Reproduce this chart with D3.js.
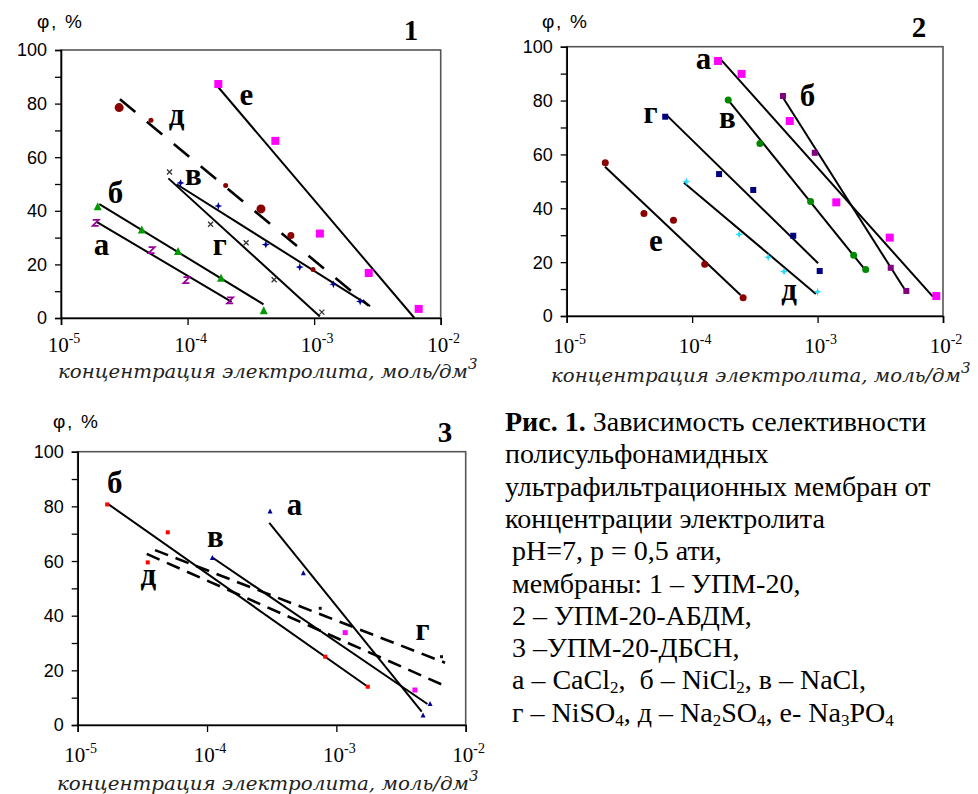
<!DOCTYPE html>
<html><head><meta charset="utf-8">
<script src="https://cdn.jsdelivr.net/npm/d3@7"></script>
<style>body{margin:0;background:#fff}svg{display:block}</style>
</head><body>
<svg id="c" width="978" height="794"></svg>
<script>
// ---------------- DATA ----------------
const xTickValues = [1e-5, 1e-4, 1e-3, 1e-2];
const xTickExponents = ["-5", "-4", "-3", "-2"];
const yTickValues = [0,10,20,30,40,50,60,70,80,90,100];
const yTickLabels = [0,20,40,60,80,100];
const seriesNames = ["а","б","в","г","д","е"];

// Panel 1 – УПМ-20  (concentration, φ %)
const p1Points = {
  "а": [[1.88e-5,35.5],[5.2e-5,25.3],[9.8e-5,14.1],[2.17e-4,6.6]],
  "б": [[1.95e-5,41.7],[4.35e-5,33],[8.4e-5,25],[1.84e-4,15],[4.0e-4,2.9]],
  "в": [[8.8e-5,50.4],[1.75e-4,41.8],[4.15e-4,27.4],[7.7e-4,19],[1.42e-3,12.6],[2.31e-3,6.2]],
  "г": [[7.2e-5,54.5],[1.52e-4,35],[2.9e-4,28.1],[4.83e-4,14.3],[1.15e-3,2.2]],
  "д": [[2.88e-5,78.5],[5.14e-5,73.8],[2.0e-4,49.4],[3.8e-4,40.7],[6.55e-4,30.8],[9.8e-4,18.1]],
  "е": [[1.75e-4,87.3],[4.94e-4,66.1],[1.11e-3,31.5],[2.7e-3,16.8],[6.7e-3,3.4]]
};
const p1Lines = {
  "а": [[1.91e-5,35.9],[2.23e-4,6.0]],
  "б": [[2.01e-5,42.5],[3.98e-4,5.1]],
  "в": [[8.2e-5,49.9],[2.77e-3,4.4]],
  "г": [[7.05e-5,52.1],[1.11e-3,0.6]],
  "д": [[2.92e-5,81.6],[2.69e-3,4.7]],
  "е": [[1.75e-4,86.1],[6.2e-3,0]]
};
const p1LabelPos = {"а":[2.09e-5,23.5],"б":[2.7e-5,42.9],"в":[1.11e-4,49.6],"г":[1.8e-4,23.5],"д":[8.2e-5,72.0],"е":[2.92e-4,79.5]};

// Panel 2 – УПМ-20-АБДМ
const p2Points = {
  "а": [[1.61e-4,94.7],[2.48e-4,89.9],[6.0e-4,72.4],[1.41e-3,42.2],[3.76e-3,29.1],[8.85e-3,7.4]],
  "б": [[5.3e-4,81.7],[9.5e-4,60.6],[3.83e-3,17.9],[5.1e-3,9.3]],
  "в": [[1.94e-4,80.2],[3.47e-4,64.1],[8.8e-4,42.5],[1.94e-3,22.6],[2.42e-3,17.3]],
  "г": [[6.1e-5,74],[1.64e-4,52.7],[3.07e-4,46.8],[6.4e-4,29.8],[1.04e-3,16.7]],
  "д": [[9.0e-5,49.9],[2.37e-4,30.3],[4.04e-4,21.8],[5.4e-4,16.5],[1.0e-3,9]],
  "е": [[2.03e-5,56.9],[4.13e-5,38.1],[7.1e-5,35.6],[1.26e-4,19.2],[2.55e-4,6.8]]
};
const p2Lines = {
  "а": [[1.69e-4,95.3],[8.3e-3,7.2]],
  "б": [[5.25e-4,81.4],[4.94e-3,9.9]],
  "в": [[1.97e-4,79.8],[2.38e-3,17.3]],
  "г": [[6.25e-5,74.6],[1.01e-3,19.6]],
  "д": [[8.6e-5,49.5],[9.7e-4,8.2]],
  "е": [[2.02e-5,55.4],[2.43e-4,7.8]]
};
const p2LabelPos = {"а":[1.23e-4,91.7],"б":[8.3e-4,78.0],"в":[1.91e-4,69.8],"г":[4.66e-5,71.7],"д":[5.93e-4,5.9],"е":[5.15e-5,24.1]};

// Panel 3 – УПМ-20-ДБСН
const p3Points = {
  "а": [[3.07e-4,78.3],[5.56e-4,55.7],[4.68e-3,3.7]],
  "б": [[1.69e-5,80.7],[4.97e-5,70.5],[8.2e-4,25],[1.75e-3,14]],
  "в": [[1.1e-4,61.3],[5.3e-3,7.9]],
  "г": [[7.5e-4,42.7],[6.5e-3,25]],
  "д": [[1.17e-3,33.8],[4.05e-3,12.8]],
  "д0": [[3.48e-5,59.5]]
};
const p3Lines = {
  "а": [[3.03e-4,74.0],[4.57e-3,4.9]],
  "б": [[1.69e-5,81.1],[1.75e-3,14.0]],
  "в": [[1.1e-4,61.3],[5.06e-3,7.7]],
  "г": [[3.96e-5,64.0],[6.92e-3,22.8]],
  "д": [[3.42e-5,62.6],[6.92e-3,14.3]]
};
const p3LabelPos = {"б":[1.93e-5,84.9],"а":[4.74e-4,76.8],"в":[1.16e-4,65.1],"д":[3.52e-5,51.2],"г":[4.63e-3,31.1]};

const captionLines = [
  [["Рис. 1.","b"],[" Зависимость селективности",""]],
  [["полисульфонамидных",""]],
  [["ультрафильтрационных мембран от",""]],
  [["концентрации электролита",""]],
  [[" pH=7, p = 0,5 ати,",""]],
  [[" мембраны: 1 – УПМ-20,",""]],
  [[" 2 – УПМ-20-АБДМ,",""]],
  [[" 3 –УПМ-20-ДБСН,",""]],
  [[" а – CaCl",""],["2","s"],[",  б – NiCl",""],["2","s"],[", в – NaCl,",""]],
  [[" г – NiSO",""],["4","s"],[", д – Na",""],["2","s"],["SO",""],["4","s"],[", е- Na",""],["3","s"],["PO",""],["4","s"]]
];

// ---------------- STYLES ----------------
const p1Style = {
  "а":{c:"#990099",m:"hour",s:6}, "б":{c:"#009900",m:"tri",s:8}, "в":{c:"#000099",m:"star",s:6},
  "г":{c:"#333333",m:"x",s:5}, "д":{c:"#8b0000",m:"circ",s:[9,5,5,9,7,5]}, "е":{c:"#ff00ff",m:"sq",s:8}
};
const p2Style = {
  "а":{c:"#ff00ff",m:"sq",s:8}, "б":{c:"#800080",m:"sq",s:6}, "в":{c:"#008800",m:"circ",s:7},
  "г":{c:"#000080",m:"sq",s:6}, "д":{c:"#22ddff",m:"star",s:6}, "е":{c:"#8b0000",m:"circ",s:7}
};
const p3Style = {
  "а":{c:"#000099",m:"tri",s:5}, "б":{c:"#ff0000",m:"sq",s:4}, "в":{c:"#000099",m:"tri",s:5},
  "г":{c:"#111111",m:"sq",s:3}, "д":{c:"#ff00ff",m:"sq",s:5}, "д0":{c:"#ff0000",m:"sq",s:4}
};

const svg = d3.select("#c");
const SERIF = "'Liberation Serif','Times New Roman',serif";
const SANS = "'Liberation Sans',Arial,sans-serif";

function marker(g, m, cx, cy, s, c) {
  if (m === "sq") g.append("rect").attr("x",cx-s/2).attr("y",cy-s/2).attr("width",s).attr("height",s).attr("fill",c);
  else if (m === "circ") g.append("circle").attr("cx",cx).attr("cy",cy).attr("r",s/2).attr("fill",c);
  else if (m === "tri") g.append("path").attr("d",`M${cx},${cy-s/2}L${cx+s/2},${cy+s/2}L${cx-s/2},${cy+s/2}Z`).attr("fill",c);
  else if (m === "star") g.append("path").attr("d",`M${cx},${cy-s/2-1}L${cx+s*0.18},${cy-s*0.18}L${cx+s/2+1},${cy}L${cx+s*0.18},${cy+s*0.18}L${cx},${cy+s/2+1}L${cx-s*0.18},${cy+s*0.18}L${cx-s/2-1},${cy}L${cx-s*0.18},${cy-s*0.18}Z`).attr("fill",c);
  else if (m === "hour") g.append("path").attr("d",`M${cx-s/2},${cy-s/2}L${cx+s/2},${cy-s/2}L${cx-s/2},${cy+s/2}L${cx+s/2},${cy+s/2}`).attr("fill","none").attr("stroke",c).attr("stroke-width",1.8);
  else if (m === "x") g.append("path").attr("d",`M${cx-s/2},${cy-s/2}L${cx+s/2},${cy+s/2}M${cx+s/2},${cy-s/2}L${cx-s/2},${cy+s/2}`).attr("stroke",c).attr("stroke-width",1.3);
}

function drawPanel(cfg) {
  const x = d3.scaleLog().domain([1e-5,1e-2]).range([cfg.left, cfg.right]);
  const y = d3.scaleLinear().domain([0,100]).range([cfg.bottom, cfg.top]);
  const g = svg.append("g");

  // frame
  g.append("rect").attr("x",cfg.left).attr("y",cfg.top).attr("width",cfg.right-cfg.left).attr("height",cfg.bottom-cfg.top)
    .attr("fill","none").attr("stroke","#555").attr("stroke-width",1.6);

  // y axis
  const ya = g.append("g").attr("transform",`translate(${cfg.left},0)`)
    .call(d3.axisLeft(y).tickValues(yTickValues).tickSize(6).tickFormat(""));
  ya.select(".domain").attr("stroke","#000").attr("stroke-width",1.6);
  ya.selectAll(".tick line").attr("stroke","#000").attr("stroke-width",1.3);
  g.selectAll(".ylab").data(yTickLabels).join("text")
    .attr("x",cfg.left-14).attr("y",d=>y(d)).attr("dy","0.36em").attr("text-anchor","end")
    .attr("font-family",SANS).attr("font-size",18).text(d=>d);

  // x axis
  const xa = g.append("g").attr("transform",`translate(0,${cfg.bottom})`)
    .call(d3.axisBottom(x).tickValues(xTickValues).tickSize(7).tickFormat(""));
  xa.select(".domain").attr("stroke","#000").attr("stroke-width",1.6);
  xa.selectAll(".tick line").attr("stroke","#000").attr("stroke-width",1.3);
  xTickValues.forEach((t,i)=>{
    const tx = g.append("text").attr("x",x(t)+3).attr("y",cfg.xlabY).attr("text-anchor","middle")
      .attr("font-family",SERIF).attr("font-size",21);
    tx.append("tspan").text("10");
    tx.append("tspan").attr("dy",-9).attr("font-size",14).text(xTickExponents[i]);
  });

  // x title
  const tt = g.append("text").attr("x",cfg.titleX).attr("y",cfg.titleY)
    .attr("font-family","'DejaVu Serif',serif").attr("font-style","italic").attr("font-size",18).attr("fill","#222");
  tt.append("tspan").attr("textLength",cfg.titleW).attr("lengthAdjust","spacingAndGlyphs").text("концентрация электролита, моль/дм");
  tt.append("tspan").attr("dy",-9).attr("font-size",15).text("3");

  // y title
  g.append("text").attr("x",cfg.phiX).attr("y",cfg.phiY).attr("font-family",SANS).attr("font-size",19)
    .attr("textLength",45).attr("lengthAdjust","spacing").text("φ, %");
  // panel number
  g.append("text").attr("x",cfg.numX).attr("y",cfg.numY).attr("font-family",SERIF).attr("font-weight","bold")
    .attr("font-size",29).attr("text-anchor","middle").text(cfg.num);

  // lines
  Object.entries(cfg.lines).forEach(([k,pts])=>{
    g.append("path").attr("d",d3.line().x(d=>x(d[0])).y(d=>y(d[1]))(pts))
      .attr("fill","none").attr("stroke","#000").attr("stroke-width",cfg.dashed.includes(k)?2.6:2)
      .attr("stroke-dasharray",cfg.dashed.includes(k)?cfg.dash:null);
  });

  // points
  Object.entries(cfg.points).forEach(([k,pts])=>{
    const st = cfg.style[k];
    pts.forEach((p,i)=>{
      const s = Array.isArray(st.s) ? st.s[i] : st.s;
      marker(g, st.m, x(p[0]), y(p[1]), s, st.c);
    });
  });

  // series labels
  Object.entries(cfg.labels).forEach(([k,p])=>{
    g.append("text").attr("x",x(p[0])).attr("y",y(p[1])).attr("text-anchor","middle")
      .attr("font-family",SERIF).attr("font-weight","bold").attr("font-size",31).text(k);
  });
}

drawPanel({left:61,right:440.7,top:50,bottom:318, xlabY:352, titleX:58, titleY:378, titleW:410,
  phiX:37, phiY:28, numX:411, numY:40, num:"1",
  points:p1Points, lines:p1Lines, style:p1Style, labels:p1LabelPos, dashed:["д"], dash:"20,15"});
drawPanel({left:566.7,right:943,top:46.7,bottom:316, xlabY:353, titleX:551, titleY:382, titleW:410,
  phiX:542, phiY:28, numX:919, numY:37, num:"2",
  points:p2Points, lines:p2Lines, style:p2Style, labels:p2LabelPos, dashed:[], dash:null});
drawPanel({left:77.7,right:465.7,top:451.7,bottom:725, xlabY:762, titleX:57, titleY:790, titleW:412,
  phiX:53, phiY:428, numX:445, numY:442, num:"3",
  points:p3Points, lines:p3Lines, style:p3Style, labels:p3LabelPos, dashed:["г","д"], dash:"14,8"});

// caption
const cap = svg.append("g");
captionLines.forEach((parts,i)=>{
  const t = cap.append("text").attr("x",505).attr("y",431+i*32.3).attr("font-family",SERIF).attr("font-size",28)
    .attr("xml:space","preserve").style("white-space","pre");
  let shifted = false;
  parts.forEach(([s,f])=>{
    const ts = t.append("tspan").text(s);
    if (f === "b") ts.attr("font-weight","bold");
    if (f === "s") { ts.attr("font-size",17).attr("dy", shifted?0:4); shifted = true; }
    else if (shifted) { ts.attr("dy",-4); shifted = false; }
  });
});
</script>
</body></html>
